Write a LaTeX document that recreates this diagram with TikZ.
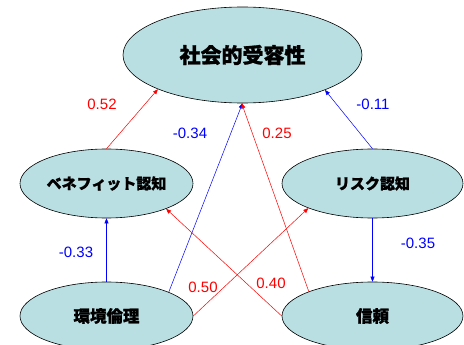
\documentclass[tikz,border=0pt]{standalone}
\usepackage{fontspec}
\setmainfont{Liberation Sans}
\newfontfamily\jp{Noto Sans CJK JP}[BoldFeatures={FakeBold=1.2}]
\usetikzlibrary{shapes.geometric,arrows.meta}
\definecolor{fillc}{RGB}{185,223,227}
\begin{document}
\begin{tikzpicture}[x=1pt,y=-1pt,
  ell/.style={ellipse,draw=black,line width=0.6pt,fill=fillc,inner sep=0pt,font=\jp\bfseries},
  rarr/.style={red,line width=0.5pt,-{Triangle[length=5pt,width=4pt]}},
  barr/.style={blue,line width=0.5pt,-{Triangle[length=5pt,width=4pt]}},
  rlab/.style={red,font=\fontsize{15}{17}\selectfont},
  blab/.style={blue,font=\fontsize{15}{17}\selectfont}]
\useasboundingbox (0,0) rectangle (464,345);
\node[ell,minimum width=239pt,minimum height=96pt,font=\jp\bfseries\fontsize{21}{24}\selectfont] (acc) at (242.5,55) {社会的受容性};
\node[ell,minimum width=173pt,minimum height=69pt,font=\jp\bfseries\fontsize{15}{18}\selectfont] (ben) at (106.5,183.5) {ベネフィット認知};
\node[ell,minimum width=181pt,minimum height=69pt,font=\jp\bfseries\fontsize{15}{18}\selectfont] (risk) at (372.5,183.5) {リスク認知};
\node[ell,minimum width=173pt,minimum height=68pt,font=\jp\bfseries\fontsize{16.5}{19}\selectfont] (env) at (106.5,316) {環境倫理};
\node[ell,minimum width=181pt,minimum height=68pt,font=\jp\bfseries\fontsize{16.5}{19}\selectfont] (trust) at (372.5,316) {信頼};
\draw[rarr] (ben.90) -- (acc.202.3);
\draw[barr] (risk.90) -- (acc.337.7);
\draw[barr] (env.21.6) -- (acc.270.6);
\draw[rarr] (trust.159.6) -- (acc.269.4);
\draw[barr] (env.90) -- (ben.270);
\draw[barr] (risk.270) -- (trust.90);
\draw[rarr] (env.0) -- (risk.201.3);
\draw[rarr] (trust.180) -- (ben.337.5);
\node[rlab] (l1) at (102,104) {0.52};
\node[blab] (l2) at (373,104) {-0.11};
\node[blab] (l3) at (190,133) {-0.34};
\node[rlab] (l4) at (277,133) {0.25};
\node[blab] (l5) at (76,252) {-0.33};
\node[blab] (l6) at (418,243) {-0.35};
\node[rlab] (l7) at (203,287) {0.50};
\node[rlab] (l8) at (271,283) {0.40};
\end{tikzpicture}
\end{document}
